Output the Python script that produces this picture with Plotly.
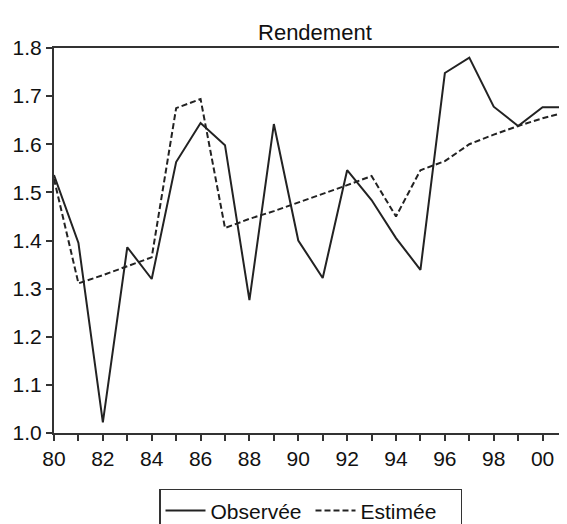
import plotly.graph_objects as go  # plotly for the line chart

# Years of the series (1980 - 2001)
years = list(range(1980, 2002))

# Observed values (solid line)
observee = [1.536, 1.395, 1.022, 1.386, 1.320, 1.563, 1.644, 1.598, 1.276, 1.642, 1.400,
            1.322, 1.546, 1.484, 1.405, 1.339, 1.748, 1.780, 1.678, 1.638, 1.677, 1.677]

# Estimated values (dashed line)
estimee = [1.528, 1.311, 1.328, 1.347, 1.365, 1.675, 1.694, 1.426, 1.445, 1.461, 1.479,
           1.496, 1.515, 1.534, 1.450, 1.546, 1.565, 1.600, 1.620, 1.638, 1.654, 1.667]

# Tick labels of the x axis
x_tickvals = list(range(1980, 2001, 2))
x_ticktext = ["80", "82", "84", "86", "88", "90", "92", "94", "96", "98", "00"]

font_family = "Liberation Sans, Arial, sans-serif"
ink = "#222"

fig = go.Figure()

fig.add_trace(
    go.Scatter(
        x=years,
        y=observee,
        mode="lines",
        line=dict(color=ink, width=2),
        name="Observée"
    )
)

fig.add_trace(
    go.Scatter(
        x=years,
        y=estimee,
        mode="lines",
        line=dict(color=ink, width=2, dash="6px,3px"),
        name="Estimée"
    )
)

# The page body has an 8px margin, so the figure is a bit smaller than the window
fig.update_layout(
    title=dict(
        text="Rendement",
        x=0.549,
        xanchor="center",
        y=0.953,
        yanchor="middle",
        font=dict(size=22, family=font_family, color="#111")
    ),
    width=559,
    height=516,
    margin=dict(l=46, r=0, t=40, b=91, autoexpand=False),
    paper_bgcolor="white",
    plot_bgcolor="white",
    showlegend=True,
    legend=dict(
        orientation="h",
        x=0.5,
        xanchor="center",
        y=-0.145,
        yanchor="top",
        bordercolor="#333",
        borderwidth=1.5,
        font=dict(size=21, family=font_family, color="#111"),
        itemwidth=40,
        entrywidth=95,
        entrywidthmode="pixels"
    ),
    font=dict(family=font_family, color="#111")
)

fig.update_xaxes(
    range=[1980, 2001],
    tickmode="array",
    tickvals=x_tickvals,
    ticktext=x_ticktext,
    ticks="outside",
    ticklen=6,
    tickwidth=1.5,
    tickcolor="#333",
    minor=dict(tickmode="linear", tick0=1980, dtick=1, ticks="outside",
               ticklen=6, tickwidth=1.5, tickcolor="#333"),
    showline=True,
    linecolor="#333",
    linewidth=2,
    mirror=True,
    showgrid=False,
    zeroline=False,
    automargin=False,
    tickfont=dict(size=21, family=font_family, color="#111")
)

fig.update_yaxes(
    range=[1.0, 1.8],
    tickmode="linear",
    tick0=1.0,
    dtick=0.1,
    tickformat=".1f",
    ticks="outside",
    ticklen=6,
    tickwidth=1.5,
    tickcolor="#333",
    showline=True,
    linecolor="#333",
    linewidth=2,
    showgrid=False,
    zeroline=False,
    automargin=False,
    tickfont=dict(size=21, family=font_family, color="#111")
)

fig.write_html("out.html")
